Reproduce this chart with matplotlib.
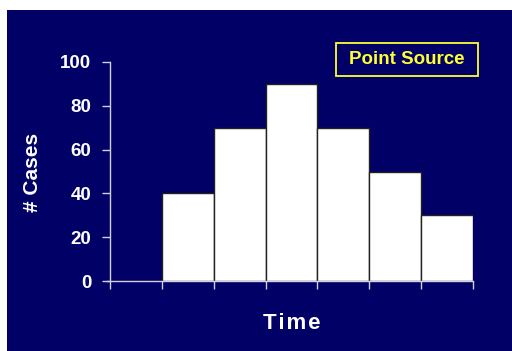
import matplotlib
matplotlib.use('Agg')
import matplotlib.pyplot as plt
from matplotlib.patches import Rectangle
import numpy as np

# epidemic curve, point source outbreak
periods = [0, 1, 2, 3, 4, 5, 6]
cases = [0, 40, 70, 90, 70, 50, 30]
yticks = [0, 20, 40, 60, 80, 100]

navy = '#000066'
yellow = '#ffff33'
plt.rcParams['font.family'] = ['Liberation Sans', 'DejaVu Sans']
plt.rcParams['font.weight'] = 'bold'

W, H = 512, 351
fig = plt.figure(figsize=(W/100, H/100), dpi=100, facecolor='white')
# dark slide background, leaving thin white strip top/left
fig.patches.append(Rectangle((7/W, 0), 1, 1 - 10/H, transform=fig.transFigure,
                             facecolor=navy, edgecolor='none', zorder=-10))

ax = fig.add_axes([110/W, 1 - 281/H, 363/W, 219/H])
ax.patch.set_alpha(0)

ax.bar(np.array(periods) + 0.5, cases, width=1.0, color='white',
       edgecolor='#222222', linewidth=1.0, zorder=2)

ax.set_xlim(0, 7)
ax.set_ylim(0, 100)
ax.set_yticks(yticks)
ax.set_xticks(np.arange(0, 8))
ax.set_xticklabels([])

for s in ['top', 'right']:
    ax.spines[s].set_visible(False)
for s in ['left', 'bottom']:
    ax.spines[s].set_color('#d0d0e0')
    ax.spines[s].set_linewidth(1.0)
ax.spines['bottom'].set_bounds(-0.06, 7)
ax.spines['bottom'].set_zorder(3)

ax.tick_params(axis='both', colors='#d0d0e0', length=5.5, width=1.0)
ax.tick_params(axis='y', labelcolor='white', labelsize=13.5, pad=8)

# axis titles placed in figure coords
fig.text(33/W, 1 - 172/H, '# Cases', rotation=90, ha='center', va='center',
         color='white', fontsize=15, fontweight='bold')
fig.text(292/W, 1 - 323.5/H, 'T\u200ai\u200am\u200ae', ha='center', va='center',
         color='white', fontsize=16, fontweight='bold')

# legend-like label box
fig.patches.append(Rectangle((336/W, 1 - 76/H), 142/W, 33/H, transform=fig.transFigure,
                             facecolor='none', edgecolor=yellow, linewidth=1.3, zorder=5))
fig.text(407/W, 1 - 60/H, 'Point Source', ha='center', va='center',
         color=yellow, fontsize=13.5, fontweight='bold')

fig.savefig('out.png', dpi=100, facecolor='white')
